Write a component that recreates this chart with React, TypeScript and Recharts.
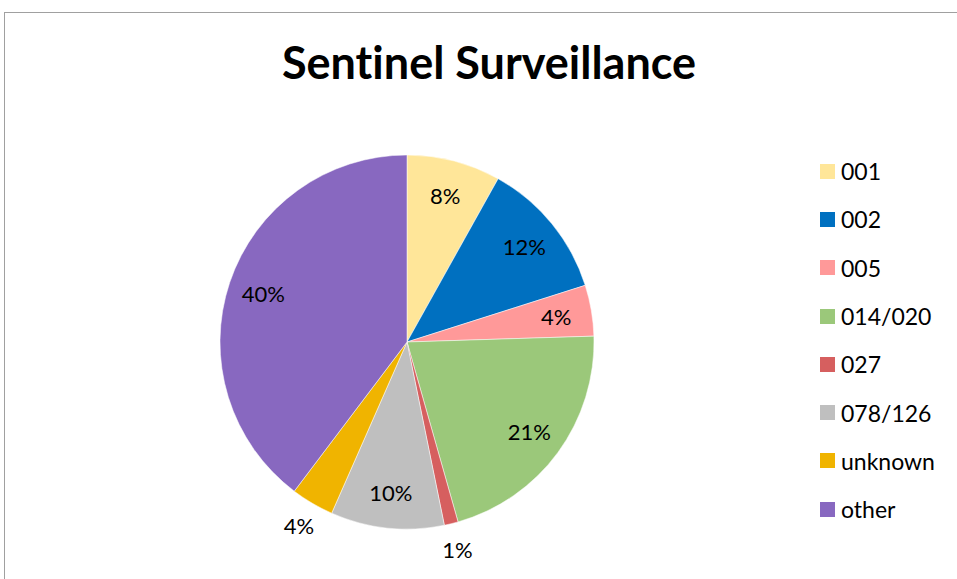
import React from 'react';
import { PieChart, Pie, Cell } from 'recharts';

const categories = ['001', '002', '005', '014/020', '027', '078/126', 'unknown', 'other'];
const shares = [8.1, 12.0, 4.4, 21.1, 1.2, 9.8, 3.7, 39.7];
const colors = ['#FFE699', '#0070C0', '#FF9999', '#9BC87A', '#D65F5F', '#BFBFBF', '#F0B400', '#8868C0'];

const data = categories.map((name, i) => ({ name, value: shares[i] }));

const FONT = 'Lato, "Open Sans", "DejaVu Sans", sans-serif';
const RAD = Math.PI / 180;

const renderLabel = (props: any) => {
  const { cx, cy, midAngle, outerRadius, percent } = props;
  const sin = -Math.sin(midAngle * RAD);
  const outside = percent < 0.05 && sin > 0.5;
  const r = outside ? outerRadius * 1.14 : outerRadius * 0.81;
  const x = cx + r * Math.cos(midAngle * RAD);
  const y = cy - r * Math.sin(midAngle * RAD);
  return (
    <text
      x={x}
      y={y}
      textAnchor="middle"
      dominantBaseline="central"
      fill="#000"
      fontSize={22}
      fontFamily={FONT}
    >
      {`${Math.round(percent * 100)}%`}
    </text>
  );
};

export default function App() {
  return (
    <div style={{ position: 'absolute', left: 0, top: 0, width: 957, height: 579, overflow: 'hidden', background: '#fff' }}>
      <div
        style={{
          position: 'absolute',
          left: 4,
          top: 12,
          width: 1000,
          height: 700,
          border: '1px solid #A0A0A0',
          boxSizing: 'border-box',
        }}
      />
      <div
        style={{
          position: 'absolute',
          left: 0,
          top: 35,
          width: 978,
          textAlign: 'center',
          fontFamily: FONT,
          fontWeight: 700,
          fontSize: 45,
          lineHeight: '54px',
          color: '#000',
          fontVariantLigatures: 'none',
        }}
      >
        Sentinel Surveillance
      </div>
      <div style={{ position: 'absolute', left: 0, top: 0 }}>
        <PieChart width={957} height={579} margin={{ top: 0, right: 0, bottom: 0, left: 0 }}>
          <Pie
            data={data}
            dataKey="value"
            nameKey="name"
            cx={407}
            cy={342}
            outerRadius={187}
            startAngle={90}
            endAngle={-270}
            stroke="#fff"
            strokeWidth={0.5}
            label={renderLabel}
            labelLine={false}
            isAnimationActive={false}
          >
            {data.map((d, i) => (
              <Cell key={d.name} fill={colors[i]} />
            ))}
          </Pie>
        </PieChart>
      </div>
      <div style={{ position: 'absolute', left: 820, top: 147 }}>
        {categories.map((c, i) => (
          <div key={c} style={{ display: 'flex', alignItems: 'center', height: 48.3 }}>
            <div style={{ width: 15, height: 15, background: colors[i], marginRight: 6 }} />
            <span style={{ fontFamily: FONT, fontSize: 23, color: '#000', lineHeight: '28px' }}>{c}</span>
          </div>
        ))}
      </div>
    </div>
  );
}
